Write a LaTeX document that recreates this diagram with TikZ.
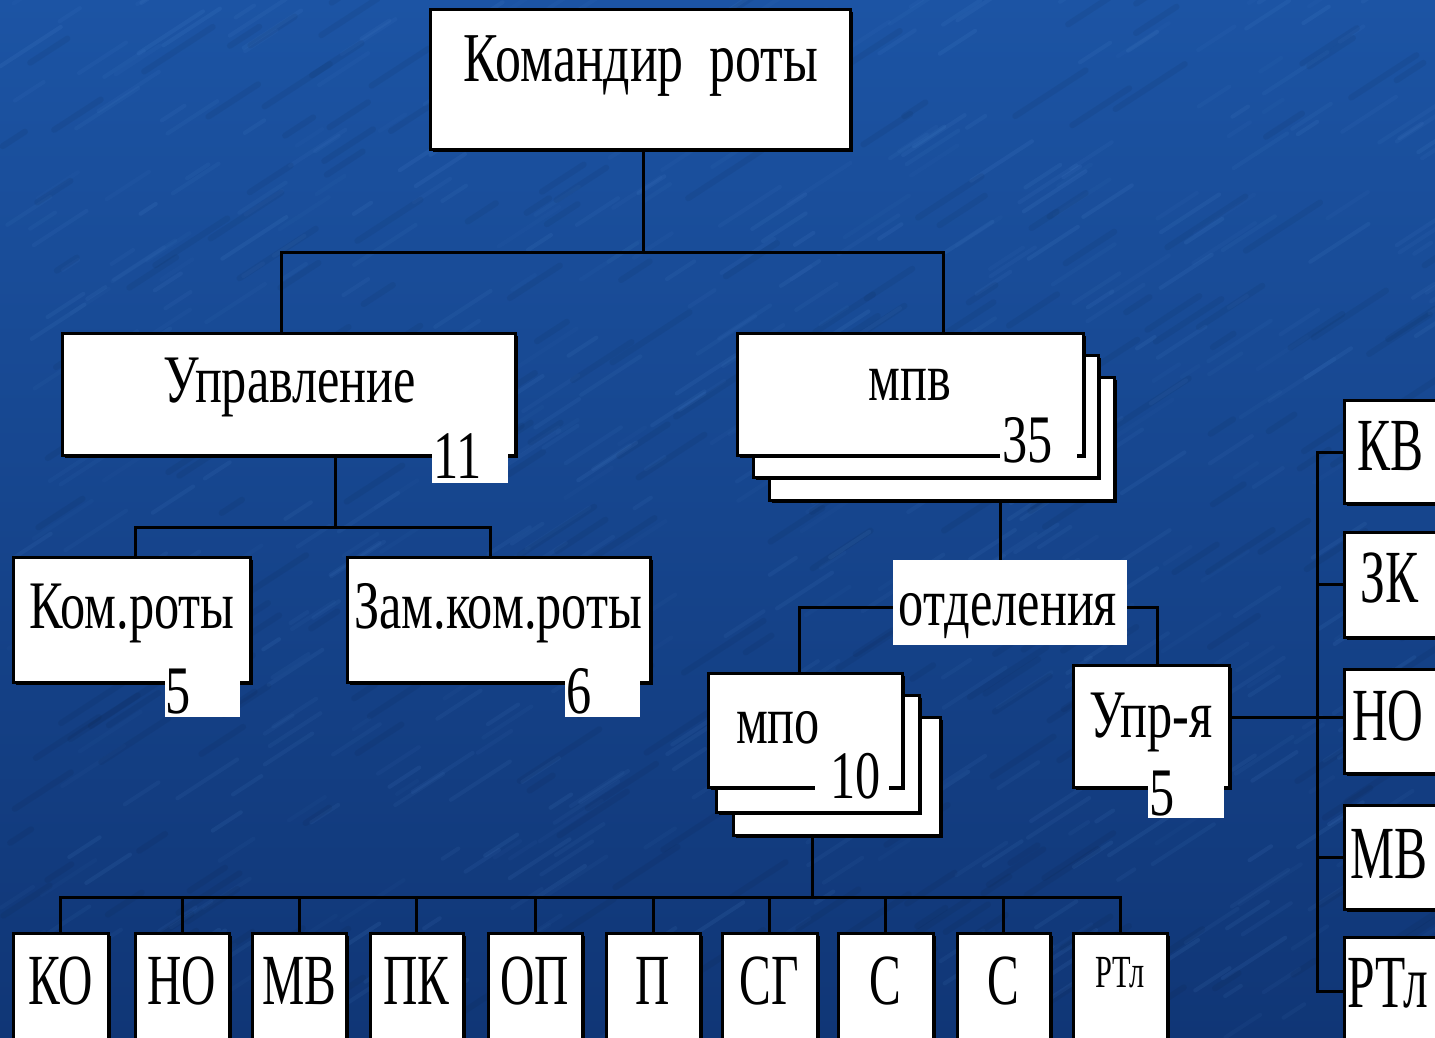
\documentclass[tikz,border=0pt]{standalone}
\usepackage{fontspec}
\newfontfamily\fA[FakeStretch=0.74]{Liberation Serif}
\newfontfamily\fB[FakeStretch=0.66]{Liberation Serif}
\usetikzlibrary{shadows}
\definecolor{bgtop}{RGB}{28,84,164}
\definecolor{bgbot}{RGB}{16,54,118}
\definecolor{streak}{RGB}{100,160,230}
\pgfdeclarelayer{bg}
\pgfdeclarelayer{lines}
\pgfsetlayers{bg,lines,main}
\newcommand\mkbox[6][box]{%
  \pgfmathsetmacro\mbW{#5-#3}\pgfmathsetmacro\mbH{#6-#4}%
  \pgfmathsetmacro\mbX{(#3+#5)/2}\pgfmathsetmacro\mbY{(#4+#6)/2}%
  \node[#1, minimum width=\mbW pt, minimum height=\mbH pt] (#2) at (\mbX,\mbY) {};}
\newcommand\fm{\fA\fontsize{68}{70}\selectfont}
\newcommand\fbig{\fA\fontsize{70}{72}\selectfont}
\newcommand\fbot{\fB\fontsize{72}{74}\selectfont}
\newcommand\fsmall{\fB\fontsize{46}{48}\selectfont}
\newcommand\fright{\fB\fontsize{75}{76}\selectfont}
\begin{document}
\begin{tikzpicture}[x=1pt,y=-1pt,
  box/.style={draw=black, line width=3pt, fill=white, inner sep=0pt, outer sep=0pt,
    drop shadow={shadow xshift=2.5pt, shadow yshift=-2.5pt, fill=black, opacity=1}},
  patch/.style={fill=white, draw=none, inner sep=0pt, outer sep=0pt},
  conn/.style={line width=3pt, draw=black},
  txt/.style={inner sep=0pt, anchor=base},
  num/.style={inner sep=0pt, anchor=base west, font=\fm}]
\useasboundingbox (0,0) rectangle (1435,1038);
\begin{pgfonlayer}{bg}
  \shade[top color=bgtop, bottom color=bgbot] (0,0) rectangle (1435,1038);
  \pgfmathsetseed{11}
  \foreach \i in {1,...,600} {
    \pgfmathsetmacro\xx{rnd*1435}
    \pgfmathsetmacro\yy{rnd*1038}
    \pgfmathsetmacro\ll{15+rnd*50}
    \pgfmathsetmacro\op{0.03+rnd*0.07}
    \draw[streak, opacity=\op, line width=4pt, line cap=round] (\xx,\yy) -- ++(\ll,-0.65*\ll);
  }
  \foreach \i in {1,...,250} {
    \pgfmathsetmacro\xx{rnd*1435}
    \pgfmathsetmacro\yy{rnd*1038}
    \pgfmathsetmacro\ll{20+rnd*60}
    \draw[black, opacity=0.05, line width=6pt, line cap=round] (\xx,\yy) -- ++(\ll,-0.65*\ll);
  }
\end{pgfonlayer}

% boxes
\mkbox{cmd}{430}{10}{850}{150}
\mkbox{upr}{62}{333}{515}{455}
\mkbox{kom}{13}{557}{250}{682}
\mkbox{zam}{347}{557}{650}{682}
\mkbox{mpvC}{769}{377}{1114}{500}
\mkbox{mpvB}{753}{355}{1098}{477}
\mkbox{mpvA}{737}{333}{1083}{455}
\mkbox{mpoC}{733}{717}{940}{835}
\mkbox{mpoB}{716}{695}{919}{812}
\mkbox{mpoA}{708}{673}{902}{787}
\mkbox{uprfive}{1073}{665}{1229}{787}
% bottom row
\mkbox{ko}{13}{933}{108}{1060}
\mkbox{no}{135}{933}{229}{1060}
\mkbox{mv}{252}{933}{346}{1060}
\mkbox{pk}{370}{933}{463}{1060}
\mkbox{op}{488}{933}{582}{1060}
\mkbox{p}{606}{933}{700}{1060}
\mkbox{sg}{722}{933}{817}{1060}
\mkbox{sa}{838}{933}{933}{1060}
\mkbox{sb}{957}{933}{1050}{1060}
\mkbox{rtl}{1073}{933}{1167}{1060}
% right column
\mkbox{rKV}{1344}{400}{1470}{503}
\mkbox{rZK}{1344}{532}{1470}{637}
\mkbox{rNO}{1344}{669}{1470}{773}
\mkbox{rMV}{1344}{805}{1470}{909}
\mkbox{rRT}{1344}{937}{1470}{1070}

% patches
\mkbox[patch]{uprN}{432}{428}{508}{483}
\mkbox[patch]{komN}{165}{678}{240}{717}
\mkbox[patch]{zamN}{565}{678}{640}{717}
\mkbox[patch]{mpvN}{1000}{415}{1077}{463}
\mkbox[patch]{mpoN}{815}{752}{889}{800}
\mkbox[patch]{otd}{893}{560}{1127}{645}
\mkbox[patch]{uprfiveN}{1148}{770}{1224}{818}

% texts
\node[txt, font=\fbig] (cmd-t) at (641,82) {Командир\ \ роты};
\node[txt, font=\fm] (upr-t) at (290,402) {Управление};
\node[num] (upr-n) at (433,478) {11};
\node[txt, font=\fm] (kom-t) at (132,628) {Ком.роты};
\node[num] (kom-n) at (165,713) {5};
\node[txt, font=\fm] (zam-t) at (498,628) {Зам.ком.роты};
\node[num] (zam-n) at (566,713) {6};
\node[txt, font=\fm] (mpv-t) at (910,400) {мпв};
\node[num] (mpv-n) at (1002,462) {35};
\node[txt, font=\fm] (otd-t) at (1008,625) {отделения};
\node[txt, font=\fm] (mpo-t) at (778,743) {мпо};
\node[num] (mpo-n) at (830,798) {10};
\node[txt, font=\fm] (uprfive-t) at (1151,737) {Упр-я};
\node[num] (uprfive-n) at (1149,815) {5};

\node[txt, font=\fbot] at (ko.north |- 0,1004) (ko-t) {КО};
\node[txt, font=\fbot] at (no.north |- 0,1004) (no-t) {НО};
\node[txt, font=\fbot] at (mv.north |- 0,1004) (mv-t) {МВ};
\node[txt, font=\fbot] at (pk.north |- 0,1004) (pk-t) {ПК};
\node[txt, font=\fbot] at (op.north |- 0,1004) (op-t) {ОП};
\node[txt, font=\fbot] at (p.north |- 0,1004) (p-t) {П};
\node[txt, font=\fbot] at (sg.north |- 0,1004) (sg-t) {СГ};
\node[txt, font=\fbot] at (sa.north |- 0,1004) (sa-t) {С};
\node[txt, font=\fbot] at (sb.north |- 0,1004) (sb-t) {С};
\node[txt, font=\fsmall] at (rtl.north |- 0,987) (rtl-t) {РТл};

\node[txt, anchor=base west, font=\fright] (rKV-t) at (1357,470) {КВ};
\node[txt, anchor=base west, font=\fright] (rZK-t) at (1360,602) {ЗК};
\node[txt, anchor=base west, font=\fright] (rNO-t) at (1352,740) {НО};
\node[txt, anchor=base west, font=\fright] (rMV-t) at (1350,878) {МВ};
\node[txt, anchor=base west, font=\fright] (rRT-t) at (1347,1007) {РТл};

% connectors
\begin{pgfonlayer}{lines}
  \coordinate (c0) at (643,252);
  \coordinate (t1) at (281,252);
  \coordinate (t2) at (943,252);
  \draw[conn] (cmd.south -| c0) -- (c0);
  \draw[conn] (upr.north -| t1) |- (t2) -- (t2 |- mpvA.north);
  \coordinate (u1) at (335,527);
  \coordinate (kL) at (135,527);
  \coordinate (zR) at (490,527);
  \draw[conn] (upr.south -| u1) -- (u1);
  \draw[conn] (kom.north -| kL) |- (zR) -- (zR |- zam.north);
  \coordinate (o1) at (1000,560);
  \draw[conn] (mpvC.south -| o1) -- (otd.north -| o1);
  \coordinate (m1) at (799,607);
  \coordinate (f1) at (1157,607);
  \draw[conn] (mpoA.north -| m1) |- (f1) -- (f1 |- uprfive.north);
  \coordinate (b0) at (812,897);
  \draw[conn] (mpoC.south -| b0) -- (b0);
  \draw[conn] (ko.north) |- (rtl.north |- b0) -- (rtl.north);
  \foreach \n in {no,mv,pk,op,p,sg,sa,sb} {
    \draw[conn] (\n.north) -- (\n.north |- b0);
  }
  \coordinate (v3) at (1317,717);
  \coordinate (vtop) at (1317,452);
  \coordinate (vbot) at (1317,991);
  \draw[conn] (uprfive.east |- v3) -- (rNO.west |- v3);
  \draw[conn] (rKV.west |- vtop) -- (vtop) -- (vbot) -- (rRT.west |- vbot);
  \draw[conn] (vtop |- rZK.west) -- (rZK.west);
  \draw[conn] (vtop |- rMV.west) -- (rMV.west);
\end{pgfonlayer}
\end{tikzpicture}
\end{document}
